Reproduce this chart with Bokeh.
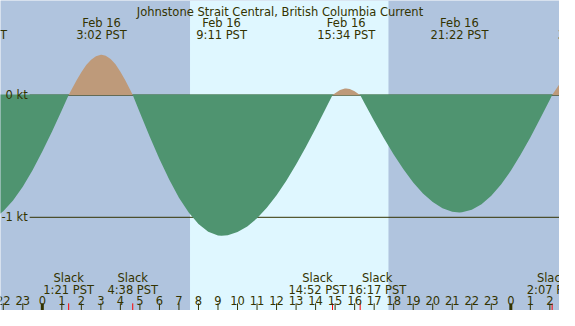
from bokeh.plotting import figure
from bokeh.models import Range1d, ColumnDataSource
from bokeh.embed import file_html
from bokeh.resources import INLINE
from bokeh.core.properties import value
import numpy as np

# ---------------- data ----------------
title = "Johnstone Strait Central, British Columbia Current"

# hours after midnight Feb 16 (PST) and current speed in knots
curve_hours = [-2.5, -2.0, -1.5, -1.0, -0.5, 0.0, 0.5, 1.0, 1.35,
               1.5, 1.75, 2.0, 2.25, 2.5, 2.75, 3.0, 3.033,
               3.25, 3.5, 3.75, 4.0, 4.25, 4.5, 4.633,
               5.0, 5.5, 6.0, 6.5, 7.0, 7.5, 8.0, 8.5, 9.0, 9.183,
               9.5, 10.0, 10.5, 11.0, 11.5, 12.0, 12.5, 13.0, 13.5, 14.0, 14.5, 14.867,
               15.0, 15.25, 15.5, 15.567, 15.75, 16.0, 16.25, 16.283,
               16.5, 17.0, 17.5, 18.0, 18.5, 19.0, 19.5, 20.0, 20.5, 21.0, 21.367,
               21.5, 22.0, 22.5, 23.0, 23.5, 24.0, 24.5, 25.0, 25.5, 26.0, 26.117,
               26.5, 26.75]
curve_kt = [-1.012, -0.950, -0.862, -0.749, -0.614, -0.462, -0.297, -0.124, 0.0,
            0.046, 0.120, 0.188, 0.246, 0.290, 0.319, 0.330, 0.330,
            0.323, 0.296, 0.252, 0.192, 0.121, 0.043, 0.0,
            -0.145, -0.339, -0.523, -0.691, -0.839, -0.961, -1.055, -1.118, -1.148, -1.150,
            -1.146, -1.121, -1.075, -1.008, -0.922, -0.819, -0.700, -0.568, -0.424, -0.273, -0.116, 0.0,
            0.016, 0.042, 0.054, 0.055, 0.051, 0.032, 0.004, 0.0,
            -0.064, -0.211, -0.353, -0.486, -0.607, -0.715, -0.805, -0.875, -0.926, -0.954, -0.960,
            -0.959, -0.939, -0.893, -0.823, -0.731, -0.619, -0.489, -0.346, -0.194, -0.037, 0.0,
            0.093, 0.147]

max_hours = [-3.3, 3.033, 9.183, 15.567, 21.367, 27.7]
max_dates = ["Feb 15", "Feb 16", "Feb 16", "Feb 16", "Feb 16", "Feb 17"]
max_times = ["20:42 PST", "3:02 PST", "9:11 PST", "15:34 PST", "21:22 PST", "3:43 PST"]

slack_hours = [1.35, 4.633, 14.867, 16.283, 26.117]
slack_words = ["Slack", "Slack", "Slack", "Slack", "Slack"]
slack_times = ["1:21 PST", "4:38 PST", "14:52 PST", "16:17 PST", "2:07 PST"]

sunrise = [7.567]
sunset = [17.733]

hour_ticks = list(range(-2, 27))
hour_labels = [str(h % 24) for h in hour_ticks]

kt_levels = [0, -1]
kt_labels = ["0 kt", "-1 kt"]

# ---------------- styling ----------------
NIGHT = "#b0c4de"
DAY = "#dff7ff"
EBB = "#4f9470"
FLOOD = "#be9a7a"
INK = "#333300"
FONT = value("DejaVu Sans")
FS = "11.5px"

# horizontal nudges (reference px) that keep neighbouring slack labels apart
SLACK_NUDGE_PX = [0, 0, -15.5, 17.5, 0]

W, H = 559, 310
PX_PER_H = 20.08          # reference pixels per hour
X_ZERO = 43.0             # reference pixel of midnight
PX_PER_KT = 128.5
Y_ZERO = 99.5
REF_W, REF_H = 575, 326

def hx(px):
    return (px - X_ZERO) / PX_PER_H

def ky(py):
    return (Y_ZERO - py) / PX_PER_KT

x0, x1 = hx(0), hx(REF_W)
ytop, ybot = ky(0), ky(REF_H)

p = figure(width=W, height=H, x_range=Range1d(x0, x1), y_range=Range1d(ybot, ytop),
           output_backend="svg", toolbar_location=None, min_border=0,
           x_axis_location=None, y_axis_location=None,
           background_fill_color=NIGHT, border_fill_color=NIGHT,
           outline_line_color=None)
p.grid.visible = False

# daylight
p.quad(left=sunrise, right=sunset, bottom=ybot, top=ytop, fill_color=DAY, line_color=None)

# level lines
p.segment(x0=[hx(30)] * len(kt_levels), y0=kt_levels, x1=[x1] * len(kt_levels), y1=kt_levels,
          line_color=INK, line_width=1)

hrs = np.array(curve_hours)
kt = np.array(curve_kt)
ebb = np.minimum(kt, 0)
flood = np.maximum(kt, 0)
p.varea(x=hrs, y1=ebb, y2=np.where(kt <= 0, 0.006, 0.0), fill_color=EBB)
p.varea(x=hrs, y1=np.zeros_like(kt), y2=flood, fill_color=FLOOD)

# kt labels
p.text(x=[hx(28)] * len(kt_levels), y=kt_levels, text=kt_labels, text_font=FONT,
       text_font_size=FS, text_color=INK, text_align="right", text_baseline="middle")

# title and max labels
p.text(x=[(x0 + x1) / 2], y=[ky(12)], text=[title], text_font=FONT, text_font_size=FS,
       text_color=INK, text_align="center", text_baseline="alphabetic")
p.text(x=max_hours, y=[ky(24)] * len(max_hours), text=max_dates, text_font=FONT,
       text_font_size=FS, text_color=INK, text_align="center", text_baseline="alphabetic")
p.text(x=max_hours, y=[ky(36.5)] * len(max_hours), text=max_times, text_font=FONT,
       text_font_size=FS, text_color=INK, text_align="center", text_baseline="alphabetic")

# slack labels
slack_label_x = [h + d / PX_PER_H for h, d in zip(slack_hours, SLACK_NUDGE_PX)]
p.text(x=slack_label_x, y=[ky(291.5)] * len(slack_hours), text=slack_words, text_font=FONT,
       text_font_size=FS, text_color=INK, text_align="center", text_baseline="alphabetic")
p.text(x=slack_label_x, y=[ky(304)] * len(slack_hours), text=slack_times, text_font=FONT,
       text_font_size=FS, text_color=INK, text_align="center", text_baseline="alphabetic")

# hour ticks and labels
tick_top = ky(318.5)
tick_src = ColumnDataSource(dict(
    x=hour_ticks,
    y0=[tick_top] * len(hour_ticks),
    y1=[ybot] * len(hour_ticks),
    w=[3 if h % 24 == 0 else 1 for h in hour_ticks],
))
p.segment(x0="x", y0="y0", x1="x", y1="y1", line_width="w", line_color=INK, source=tick_src)
p.segment(x0=slack_hours, y0=[tick_top] * len(slack_hours), x1=slack_hours,
          y1=[ybot] * len(slack_hours), line_color="red", line_width=1)
p.text(x=hour_ticks, y=[ky(316)] * len(hour_ticks), text=hour_labels, text_font=FONT,
       text_font_size=FS, text_color=INK, text_align="center", text_baseline="alphabetic")

open("out.html", "w").write(file_html(p, INLINE))
